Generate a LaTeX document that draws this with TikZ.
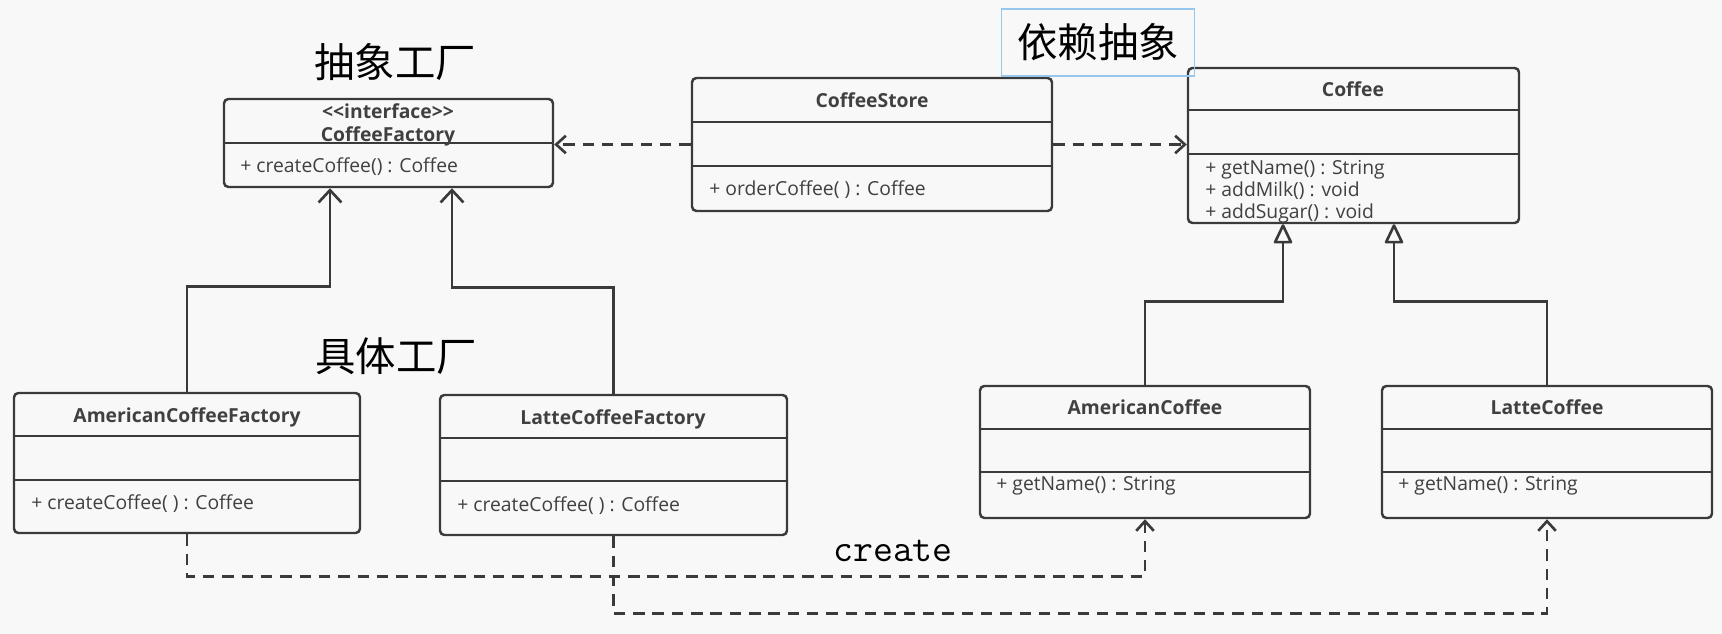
\documentclass[tikz,border=0pt]{standalone}
\usepackage{fontspec}
\setmainfont{Open Sans}
\newfontfamily\cjkfont{Noto Sans CJK SC}
\usepackage{tikz}
\usetikzlibrary{fit}
\usetikzlibrary{arrows.meta}
\definecolor{paper}{RGB}{248, 248, 248}
\definecolor{graphite}{RGB}{58, 58, 58}
\definecolor{slate}{RGB}{64, 64, 64}
\definecolor{skyline}{RGB}{150, 200, 238}

\begin{document}
\begin{tikzpicture}[x=0.02cm, y=-0.02cm,
    classbox/.style={draw=graphite, line width=1.4pt, rounded corners=2.5pt, inner sep=0pt},
    rule/.style={draw=graphite, line width=1.4pt},
    classname/.style={font=\bfseries\fontsize{11}{13}\selectfont, text=slate, anchor=mid, inner sep=0pt},
    member/.style={font=\fontsize{11}{13}\selectfont, text=slate, anchor=mid west, inner sep=0pt},
    note/.style={font=\cjkfont\fontsize{23}{26}\selectfont, text=black, inner sep=0pt},
    realize/.style={draw=graphite, line width=1.5pt, -{Straight Barb[length=7pt, width=13pt]}},
    inherit/.style={draw=graphite, line width=1.5pt, -{Triangle[open, round, length=12pt, width=11pt]}},
    depend/.style={draw=graphite, line width=1.5pt, dash pattern=on 6.5pt off 4.5pt,
                   -{Straight Barb[length=5.5pt, width=10pt]}}]
            % background and frame of the page
            \fill[paper]                                    (0,0) rectangle (1722,634);

            % class boxes
            \node[classbox, fit={(224,99) (553,187)}]       (factory) {};
            \node[classbox, fit={(692,78) (1052,211)}]      (store)   {};
            \node[classbox, fit={(1188,68) (1519,223)}]     (coffee)  {};
            \node[classbox, fit={(14,393) (360,533)}]       (acf)     {};
            \node[classbox, fit={(440,395) (787,535)}]      (lcf)     {};
            \node[classbox, fit={(980,386) (1310,518)}]     (ac)      {};
            \node[classbox, fit={(1382,386) (1712,518)}]    (lc)      {};

            % compartments
            \draw[rule] (factory.west |- 0,143) -- (factory.east |- 0,143);
            \foreach \cls/\ya/\yb in {store/122/166, coffee/110/154, acf/436/480,
                                      lcf/438/481, ac/429/472, lc/429/472}
            {
                \draw[rule] (\cls.west |- 0,\ya) -- (\cls.east |- 0,\ya);
                \draw[rule] (\cls.west |- 0,\yb) -- (\cls.east |- 0,\yb);
            }

            % class names and members
            \node[classname] (factorytag)  at (388,114)  {<{}<interface>{}>};
            \node[classname] (factoryname) at (388,137)  {CoffeeFactory};
            \node[member]    (factoryop)   at (240,168)  {+ createCoffee() : Coffee};
            \node[classname] (storename)   at (872,103)  {CoffeeStore};
            \node[member]    (storeop)     at (709,191)  {+ orderCoffee(~) : Coffee};
            \node[classname] (coffeename)  at (1353,92)  {Coffee};
            \node[member]    (coffeeopA)   at (1205,170) {+ getName() : String};
            \node[member]    (coffeeopB)   at (1205,192) {+ addMilk() : void};
            \node[member]    (coffeeopC)   at (1205,214) {+ addSugar() : void};
            \node[classname] (acfname)     at (187,418)  {AmericanCoffeeFactory};
            \node[member]    (acfop)       at (31,505)   {+ createCoffee(~) : Coffee};
            \node[classname] (lcfname)     at (613,420)  {LatteCoffeeFactory};
            \node[member]    (lcfop)       at (457,507)  {+ createCoffee(~) : Coffee};
            \node[classname] (acname)      at (1145,410) {AmericanCoffee};
            \node[member]    (acop)        at (996,486)  {+ getName() : String};
            \node[classname] (lcname)      at (1547,410) {LatteCoffee};
            \node[member]    (lcop)        at (1398,486) {+ getName() : String};

            % notes
            \node[note] (abstractnote) at (395,62)  {抽象工厂};
            \node[note] (concretenote) at (396,356) {具体工厂};
            \node[note, draw=skyline, line width=0.6pt, minimum width=3.86cm, minimum height=1.34cm]
                        (dependnote)   at (1098,42.5) {依赖抽象};
            \node[font=\ttfamily\fontsize{22}{24}\selectfont, inner sep=0pt] (createnote) at (893,551) {create};

            % connectors
            \coordinate (factoryinA) at (factory.south -| 330,0);
            \coordinate (factoryinB) at (factory.south -| 452,0);
            \coordinate (coffeeinA)  at (coffee.south -| 1283,0);
            \coordinate (coffeeinB)  at (coffee.south -| 1394,0);
            \draw[depend]  (store.west) -- (store.west -| factory.east);
            \draw[depend]  (store.east) -- (store.east -| coffee.west);
            \draw[realize] (acf.north) -- ++(0,-105) -| (factoryinA);
            \draw[realize] (lcf.north) -- ++(0,-106) -| (factoryinB);
            \draw[inherit] (ac.north)  -- ++(0,-83)  -| (coffeeinA);
            \draw[inherit] (lc.north)  -- ++(0,-83)  -| (coffeeinB);
            \draw[depend]  (acf.south) -- ++(0,42)   -| (ac.south);
            \draw[depend]  (lcf.south) -- ++(0,77)   -| (lc.south);
\end{tikzpicture}
\end{document}
